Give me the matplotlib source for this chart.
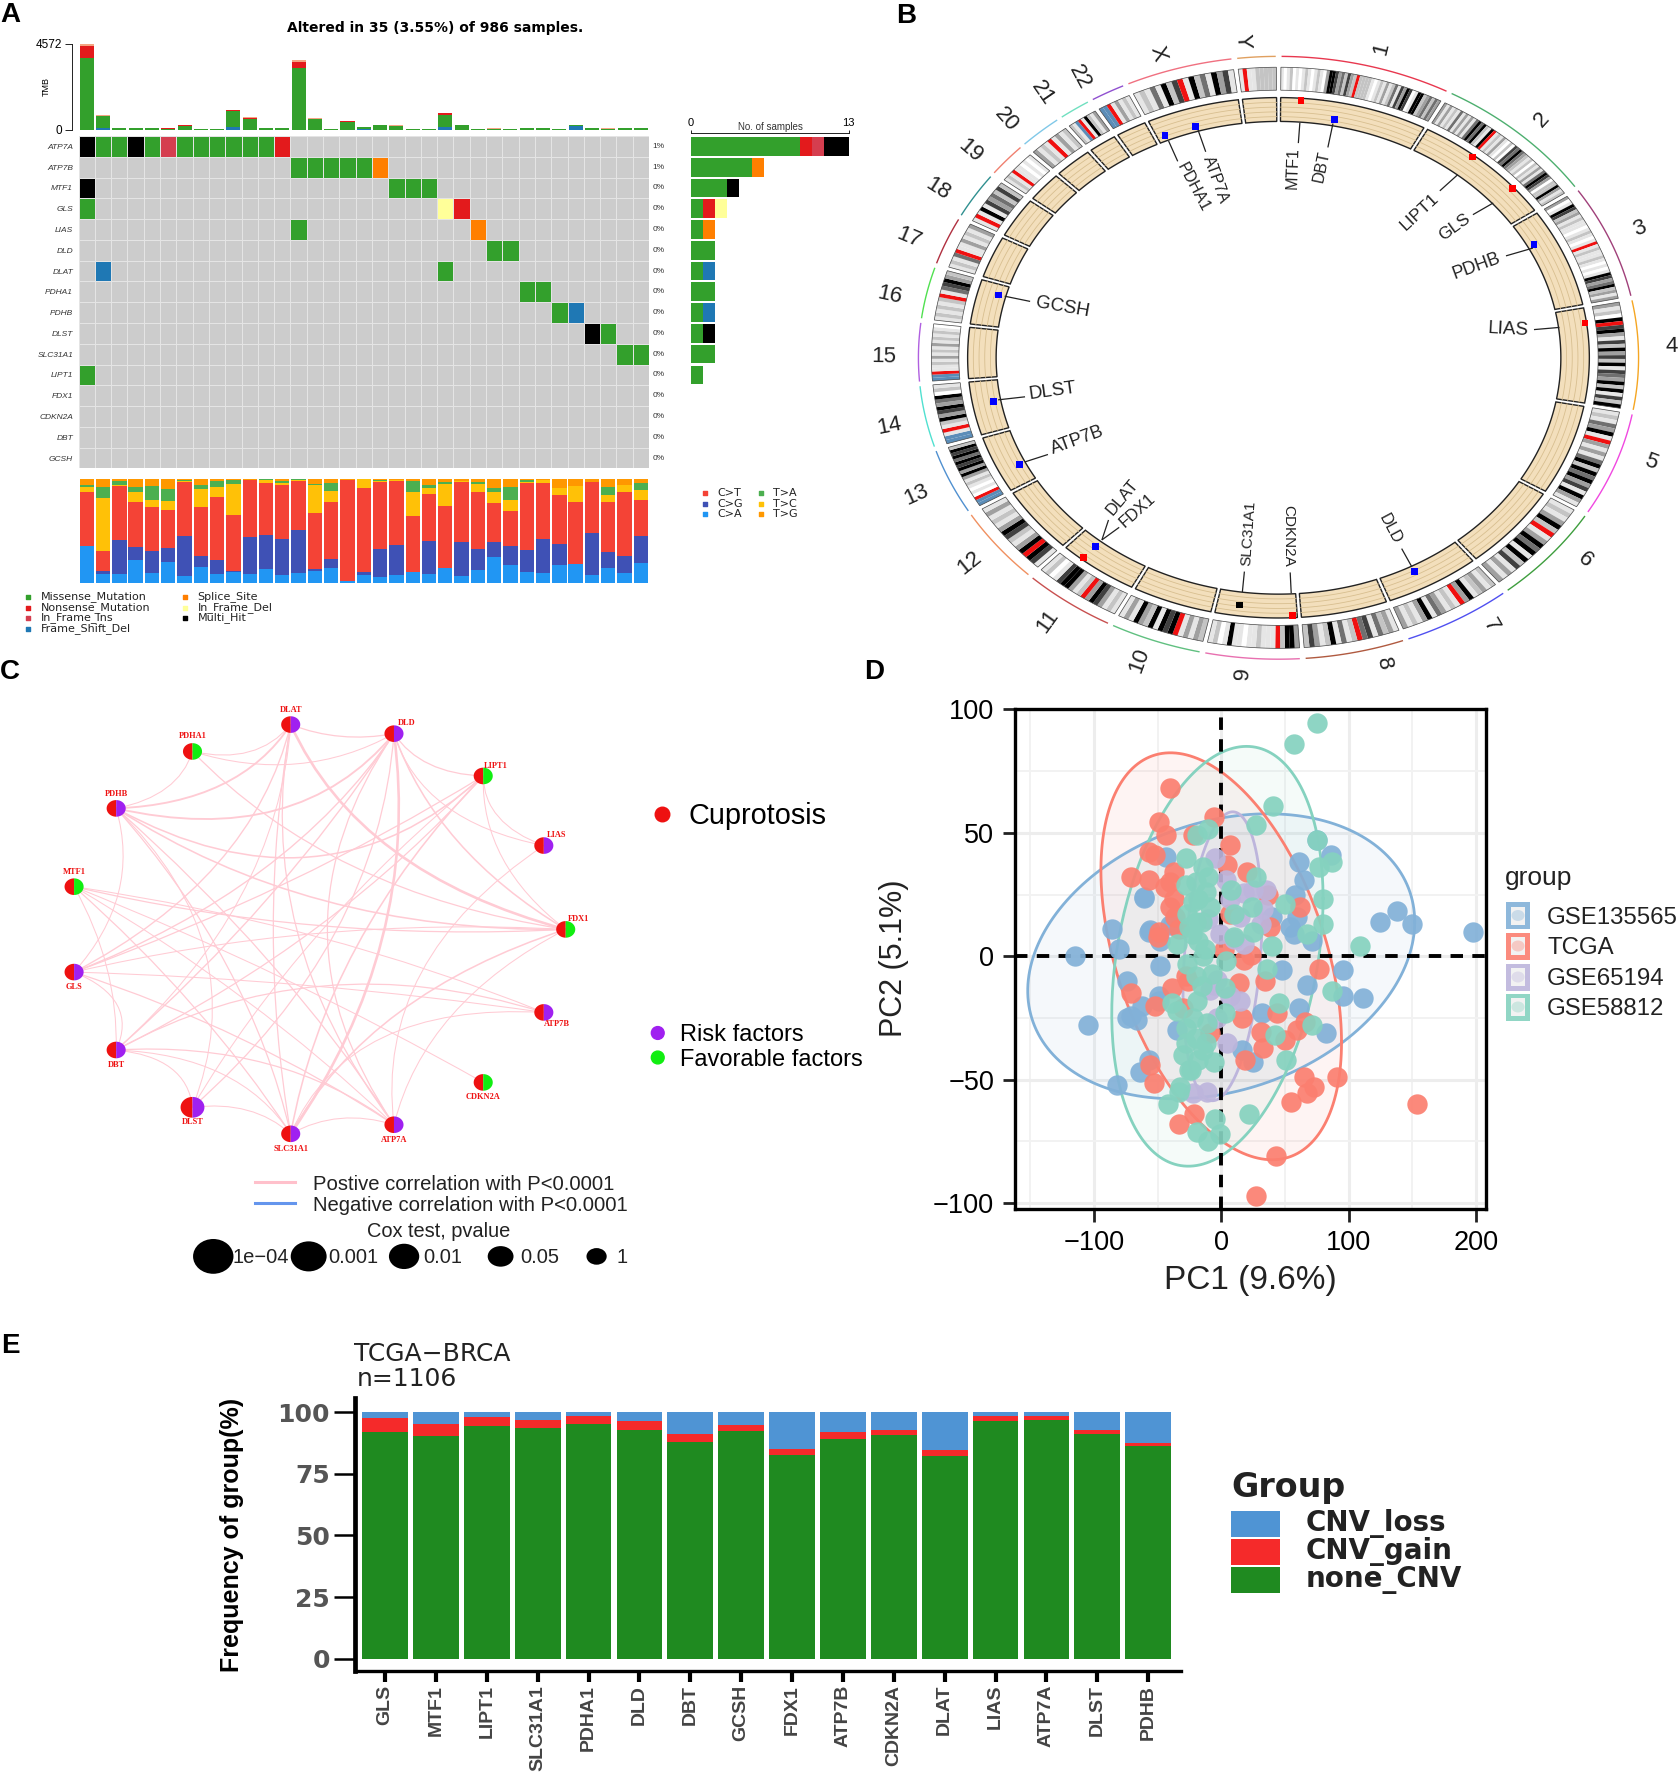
import numpy as np
import matplotlib
matplotlib.use("Agg")
import matplotlib.pyplot as plt
from matplotlib.colors import ListedColormap
from matplotlib.collections import PolyCollection, LineCollection
from matplotlib.path import Path
from matplotlib.patches import PathPatch, Polygon, Ellipse, Rectangle

plt.rcParams['font.family'] = ['Liberation Sans', 'DejaVu Sans']
W, H = 1678, 1773

# ---------- Panel A data ----------
onco_genes = ["ATP7A","ATP7B","MTF1","GLS","LIAS","DLD","DLAT","PDHA1","PDHB","DLST","SLC31A1","LIPT1","FDX1","CDKN2A","DBT","GCSH"]
onco_pct = ["1%","1%"] + ["0%"]*14
# . none  m missense  n nonsense  i in-frame ins  f frameshift  s splice  d in-frame del  h multi-hit
onco_rows = [
    "hmmhmimmmmmmn......................",
    ".............mmmmms................",
    "h..................mmm.............",
    "m.....................dn...........",
    ".............m..........s..........",
    ".........................mm........",
    ".f....................m............",
    "...........................mm......",
    ".............................mf....",
    "...............................hm..",
    ".................................mm",
    "m..................................",
    "...................................",
    "...................................",
    "...................................",
    "...................................",
]
onco_order = ".mnifsdh"
onco_colors = ["#CCCCCC","#33A02C","#E31A1C","#D53E4F","#1F78B4","#FF7F00","#FFFF99","#000000"]
tmb_missense = [3830,680,70,90,60,50,200,30,30,860,560,60,90,3290,560,50,430,120,220,200,30,30,630,220,40,30,40,80,80,30,60,100,30,60,60]
tmb_nonsense = [630,0,0,0,0,15,20,0,0,45,50,0,0,340,20,0,20,0,0,0,0,0,70,20,0,0,0,0,0,0,0,0,0,0,0]
tmb_frameshift = [0,70,0,0,0,0,0,0,0,130,0,0,0,0,0,0,0,20,0,0,0,0,160,0,0,0,0,0,0,0,190,0,0,0,0]
tmb_other = [90,40,0,0,10,10,20,20,20,30,40,0,10,90,30,0,30,0,10,20,20,20,50,20,10,30,0,10,10,20,10,10,40,10,10]
bar_missense = [9,5,3,1,1,2,1,2,1,1,2,1,0,0,0,0]
bar_nonsense = [1,0,0,1,0,0,0,0,0,0,0,0,0,0,0,0]
bar_ins      = [1,0,0,0,0,0,0,0,0,0,0,0,0,0,0,0]
bar_fs       = [0,0,0,0,0,0,1,0,1,0,0,0,0,0,0,0]
bar_splice   = [0,1,0,0,1,0,0,0,0,0,0,0,0,0,0,0]
bar_del      = [0,0,0,1,0,0,0,0,0,0,0,0,0,0,0,0]
bar_multi    = [2,0,1,0,0,0,0,0,0,1,0,0,0,0,0,0]
titv_CA = [35,8,8,22,9,20,6,15,8,10,8,13,7,9,11,14,1,7,5,7,10,8,14,6,12,25,17,10,9,17,18,7,14,9,19]
titv_CG = [0,3,33,12,21,13,39,11,14,1,36,33,35,42,2,9,0,3,27,29,0,32,0,33,20,14,18,21,33,20,0,41,15,17,26]
titv_CT = [52,19,52,44,43,37,52,47,61,54,55,50,52,47,54,55,98,81,65,62,54,46,60,58,55,38,34,65,54,48,60,49,49,61,35]
titv_TC = [5,52,1,9,7,9,1,17,9,30,0,3,2,1,27,10,0,9,1,1,23,5,21,1,8,10,11,1,3,6,15,0,7,7,9]
titv_TA = [2,10,4,5,13,11,1,4,6,4,0,1,2,1,1,8,0,0,1,0,11,3,2,0,2,4,12,2,0,0,0,0,7,0,7]
titv_TG = [6,8,2,8,7,10,1,6,2,1,1,0,2,0,5,4,1,0,1,1,2,6,3,2,3,9,8,1,1,9,7,3,8,6,4]
titv_colors = ["#2196F3","#3F51B5","#F44336","#FFC107","#4CAF50","#FF9800"]

# ---------- Panel B data ----------
chrom_names = [str(i) for i in range(1,23)] + ["X","Y"]
chrom_len = [248,242,198,190,181,171,159,145,138,134,135,133,114,107,102,90,83,80,59,64,47,51,156,57]
chrom_arc_colors = ["#E8384F","#4DAF6F","#A0407A","#F5A623","#F048E0","#3E9E3E","#5050F0","#B05A40","#E870B0","#60C080",
                    "#C85050","#F09060","#5090D0","#50E0D0","#B060E0","#50E050","#B03040","#309090","#F08070","#80C8E8",
                    "#70E0C0","#9050D0","#F07080","#E0A060"]
chrom_bands = [
 "1012010121012103665342532r2222101213124153650166234243",
 "3131214131314646216r12131020546432120213146530226312",
 "30165231211012101r1211210101653462313",
 "31206r5631526352615436261526",
 "1214361r3131462646351631",
 "121362r1364616251313",
 "2132163r121341631213",
 "1324154r2141621352",
 "3662r11121101161021",
 "23131r65616236131",
 "1213563r2136651021",
 "156r631256312131",
 "bbr01012136365646562",
 "bb1r126356346021",
 "bbr112131213121210",
 "121212r145632",
 "1214r1131213",
 "1r161534252",
 "121r110101",
 "3121r1312",
 "21br16213",
 "bbr13121",
 "12141625r162416351",
 "1r1122222",
]
band_colors = {'0':'#FFFFFF','1':'#E6E6E6','2':'#C4C4C4','3':'#A0A0A0','4':'#707070','5':'#404040','6':'#000000','r':'#F01010','b':'#5B8DB8'}
gene_names = ["MTF1","DBT","LIPT1","GLS","PDHB","LIAS","DLD","CDKN2A","SLC31A1","FDX1","DLAT","ATP7B","DLST","GCSH","PDHA1","ATP7A"]
gene_angle = [4.2,11.1,39.0,49.1,62.1,82.3,152,177.4,187.5,219.2,219,243.8,259.6,285,336.9,343.3]
gene_track = [594,559,596,597,558,597,558,594,575,595,561,557,560,559,558,557]
gene_color = ["#FF0000","#0000FF","#FF0000","#FF0000","#0000FF","#FF0000","#0000FF","#FF0000","#000000","#FF0000","#0000FF","#0000FF","#0000FF","#0000FF","#0000FF","#0000FF"]
gene_label_xy = [(812,388),(867,383),(1060,488),(1128,523),(1172,615),(1235,760),(1003,1220),(803,1235),(725,1230),(505,1176),(477,1146),(388,1015),(340,903),(358,708),(615,432),(660,415)]
gene_label_rot = [88,78,43,36,20,-3,-62,-90,86,42,50,20,8,-10,-62,-70]
gene_label_size = [11.5,11.5,12.5,12.5,13,13.5,11.5,11,11,12,12,13,13.5,13.5,11.5,11.5]
gene_line = [((825,283),(822,330)),((890,285),(880,340)),((1135,403),(1100,440)),((1205,468),(1165,495)),((1283,572),(1230,590)),
             ((1335,755),(1285,760)),((1045,1307),(1025,1265)),((808,1368),(806,1320)),((712,1365),(716,1318)),((436,1245),(470,1216)),
             ((436,1245),(449,1199)),((285,1065),(330,1048)),((232,922),(285,915)),((245,683),(295,695)),((567,325),(585,372)),((625,300),(640,350))]
chrom_label_xy = [(985,113),(1300,275),(1493,527),(1555,800),(1515,1065),(1385,1290),(1200,1443),(990,1530),(713,1552),(510,1522),
                  (330,1433),(175,1298),(72,1140),(18,982),(8,823),(18,680),(57,548),(113,435),(178,347),(247,275),(320,215),(392,178),(545,123),(712,95)]

# ---------- Panel C data ----------
net_nodes = ["DLAT","DLD","LIPT1","LIAS","FDX1","ATP7B","CDKN2A","ATP7A","SLC31A1","DLST","DBT","GLS","MTF1","PDHB","PDHA1"]
net_x = [518,702,861,969,1008,969,861,702,518,343,207,132,132,207,343]
net_y = [138,161,268,444,656,866,1043,1150,1173,1106,961,764,548,350,206]
net_factor = ["r","r","f","r","f","r","f","r","r","r","r","r","f","r","f"]
net_size = [1,1,1,1,1,1,1,1,1,1.25,1,1,1,1,1]
net_label_xy = [(518,101),(725,135),(883,243),(992,418),(1030,630),(992,895),(861,1080),(702,1189),(518,1211),(343,1144),(207,999),(132,801),(132,510),(207,313),(343,168)]
net_edges = [
 ("DLAT","PDHA1",1,.2),("DLAT","DLD",1.2,.1),("DLD","PDHA1",1,.15),("DLD","LIPT1",1.2,.15),("DLD","LIAS",1,.15),
 ("LIPT1","LIAS",1,.15),("LIPT1","FDX1",1,.1),("PDHB","PDHA1",1,.15),("PDHB","GLS",1,.1),("GLS","DBT",1,.2),("DBT","DLST",1,.2),
 ("DLST","SLC31A1",1,.15),("SLC31A1","ATP7A",1,.15),("DBT","SLC31A1",1,.15),("PDHB","DLAT",1.8,.15),("PDHB","DLD",1.8,.2),
 ("PDHB","LIPT1",1.5,.25),("PDHB","FDX1",1.5,.1),("PDHB","SLC31A1",1.2,.05),("PDHB","ATP7A",1.2,.03),("PDHB","DLST",1,.12),
 ("DLAT","FDX1",2.5,.12),("DLD","FDX1",1.5,.08),("DLAT","GLS",1.3,.1),("DLAT","DBT",1,.08),("DLD","GLS",1.3,.08),("DLD","DBT",1.3,.03),
 ("DLD","DLST",1.2,.08),("DLD","SLC31A1",2.5,-.07),("DLD","ATP7A",1.2,.12),("LIPT1","GLS",1.2,.03),("LIPT1","DBT",1.2,.05),
 ("LIPT1","DLST",1,.04),("LIPT1","SLC31A1",1.5,.06),("PDHA1","FDX1",1.2,.1),("FDX1","SLC31A1",1.5,.1),("FDX1","ATP7A",1,.1),
 ("FDX1","MTF1",1.2,.05),("MTF1","ATP7B",1,.04),("MTF1","CDKN2A",1,.02),("MTF1","SLC31A1",1.2,.03),("MTF1","ATP7A",1,.03),
 ("MTF1","DBT",1,.05),("GLS","ATP7B",1,.02),("GLS","ATP7A",1.2,.04),("DBT","ATP7B",1.2,.15),("DBT","ATP7A",1.2,.12),
 ("SLC31A1","ATP7B",1,.2),("LIAS","ATP7A",1,.12),("DLAT","SLC31A1",1.2,-.03),("DLAT","ATP7A",1.2,.08),("FDX1","GLS",1,.05),
]
cox_labels = ["1e\u221204","0.001","0.01","0.05","1"]
cox_x = [380,550,720,892,1063]
cox_rx = [36,32,27,23,18]
cox_ry = [44,38,32,26,21]

# ---------- Panel D data ----------
pc_groups = ["GSE135565","TCGA","GSE65194","GSE58812"]
pc_colors = ["#82B1D8","#FB7F70","#BDB5DC","#85D2BF"]
blue_pts = [(198,10),(150,13),(138,18.5),(125,14),(-115,0),(-105,-28),(-82,-52),(-86,11),(-80,3),(-61,24),(-57,10),(-48,6),(-74,-10),(-74,-25),(-66,-26),(-62,-20),(-64,-47),(-57,-42),(-49,-16),(-38,13),(75,47),
            (-43,40.3),(-61,23.5),(61,38),(86,41),(65,31),(58,25),(59.5,16),(57,9),(71,6),(48,-5.5),(67,-11.6),(96,-5.5),(96,-16),(111,-17),(61,-21),(82,-31),(32,-23),(-48,-4),(-56,10.6),(-40,12.7),(-49,-18),(-71,-24),(-35,-30),(16,-38),(25,-43),(40,16),(54,12)]
red_pts = [(-40,68),(-49,54.5),(-43,49),(-6,56.5),(-22,49),(7,45),(-57,42.4),(-52,41),(-57,31),(-71,32),(-37,34),(-40,30),(-44,28),(-40,20),(-49,10),(-50,8),(4.5,37),(20,34),(37,25),(62,20),(18,-1.5),(23,0.5),(2,2.5),(76.5,-5),(34.6,-10),(13.6,-11),(-26,-10),(-39,-13),(-52,-20),(-71,-15),(44,-23),(16,-25),(31,-30.5),(66,-26.5),(59.5,-30),(50,-34),(33,-37),(19,-42),(-8.6,-31),(-56,-44),(-53,-51.5),(91,-49),(65,-49),(72.6,-53),(67,-55.5),(55,-59),(154,-60),(-21,-64),(-33,-68),(43,-81),(27,-97),(-37,23),(-36,16),(-33.5,11),(7,17),(38.5,12),(-30,-21),(-28,-8)]
purple_pts = [(-5,40),(4,31),(25,27),(35,27),(33,19),(31,13),(18,25.5),(7,23),(15,16),(-1,9),(10,7),(18,5),(-3,-9.6),(7,-16),(15,-18),(-9,-13.6),(4.5,-35),(-22,-55.5),(-6,-11.6),(-11,-55),(-10,15),(-3,-25)]
teal_pts = [(75,94.5),(57,86),(41,61),(27,53),(-10,51.5),(-19,49),(75,47),(87,38),(77,36),(-28,40),(-14,36),(-28,29),(-10,32),(-18,23),(-27,17),(-9,20),(-15,14),(-23,9),(-13,3),(-35,5),(-27,-3),(-14,0),(-7,-7),(3,-13),(-39,-19),(-19,-18),(3,-23),(-28,-29),(-11,-27),(-28,-35),(-14,-38),(-6,-43),(-24,-46),(-32,-53),(8,27),(27,32),(24,20),(10,17),(10,8),(25,10),(40,4),(4,-2),(36,-5),(50,21),(80,23),(80,13),(67,9),(109,4),(45,-19),(87,-14),(71,-28),(42,-32),(51,-42),(22,-64),(-5,-66),(-19,-71),(-1,-72),(-10,-75),(-42,-60),(-33,-55),(-25,-46),
            (-20,30),(-22,22),(-25,12),(-18,6),(-20,-8),(-15,-12),(-22,-25),(-20,-33),(-18,-42),(-12,-35),(-35,-22),(-20,14),(-12,26),(-30,-40)]
# centre x, half-width, centre y, half-height, phase (deg)
pc_ellipses = [(0,152,0,57.7,76),(0,94.5,0,82.4,115),(1,31,0,58.5,75),(-3,83,0,85,74)]

# ---------- Panel E data ----------
cnv_genes = ["GLS","MTF1","LIPT1","SLC31A1","PDHA1","DLD","DBT","GCSH","FDX1","ATP7B","CDKN2A","DLAT","LIAS","ATP7A","DLST","PDHB"]
cnv_none = [91.9,90.3,94.3,93.5,95.1,92.9,88.0,92.2,82.6,89.2,90.6,82.0,96.2,96.6,91.1,86.1]
cnv_gain = [5.7,5.0,3.7,3.4,3.5,3.3,3.0,2.7,2.6,2.7,2.3,2.5,2.0,1.6,1.5,1.5]
cnv_loss = [2.4,4.7,2.0,3.1,1.4,3.8,9.0,5.1,14.8,8.1,7.1,15.5,1.8,1.8,7.4,12.4]

# ---------- figure ----------
fig = plt.figure(figsize=(W/100, H/100), dpi=100, facecolor="white")
def px_axes(x0, y0, x1, y1, **kw):
    return fig.add_axes([x0/W, 1-y1/H, (x1-x0)/W, (y1-y0)/H], **kw)

ov = px_axes(0, 0, W, H, zorder=10)
ov.set_xlim(0, W); ov.set_ylim(H, 0); ov.axis("off"); ov.patch.set_alpha(0)
for s, x, y in [("A",10,15),("B",906,16),("C",10,672),("D",874,672),("E",10,1346)]:
    ov.text(x, y, s, fontsize=20, fontweight="bold", ha="center", va="center")

# ---- A ----
ax = px_axes(78.6, 136, 649, 468.4)
codes = np.array([[onco_order.index(c) for c in r] for r in onco_rows])
ax.pcolormesh(np.arange(36), np.arange(17), codes, cmap=ListedColormap(onco_colors), vmin=-.5, vmax=7.5,
              edgecolors="#E4E4E4", linewidth=0.5)
ax.set_ylim(16, 0); ax.set_xlim(0, 35)
for s in ax.spines.values(): s.set_visible(False)
ax.set_xticks([])
ax.set_yticks(np.arange(16)+.5, onco_genes, fontsize=6, style="italic", color="#333333")
ax.tick_params(axis="y", length=0, pad=4)
for i, p in enumerate(onco_pct):
    ax.text(35.2, i+.5, p, fontsize=6, va="center", color="#333333")

ax = px_axes(78.6, 44, 649, 129.6)
xs = np.arange(35)+.5
bot = np.zeros(35)
for vals, c in [(tmb_frameshift,"#1F78B4"),(tmb_missense,"#33A02C"),(tmb_nonsense,"#E31A1C"),(tmb_other,"#F4A582")]:
    ax.bar(xs, vals, .86, bottom=bot, color=c); bot += np.array(vals)
ax.set_xlim(0, 35); ax.set_ylim(0, 4572)
for k in ("top","right","bottom"): ax.spines[k].set_visible(False)
ax.spines["left"].set_position(("outward", 4.8)); ax.spines["left"].set_linewidth(.6)
ax.set_xticks([]); ax.set_yticks([0, 4572], ["0","4572"], fontsize=8.5)
ax.tick_params(axis="y", length=5, width=.6, pad=2)
ax.text(-2.0, 2286, "TMB", fontsize=6.5, rotation=90, ha="center", va="center")

ax = px_axes(78.6, 478, 649, 582.5)
bot = np.zeros(35)
for vals, c in zip([titv_CA,titv_CG,titv_CT,titv_TC,titv_TA,titv_TG], titv_colors):
    ax.bar(xs, vals, .88, bottom=bot, color=c); bot += np.array(vals)
ax.set_xlim(0, 35); ax.set_ylim(0, 101); ax.axis("off")

ax = px_axes(691, 136, 848.5, 468.4)
ys = np.arange(16)+.5
bot = np.zeros(16)
for vals, c in zip([bar_missense,bar_nonsense,bar_ins,bar_fs,bar_splice,bar_del,bar_multi], onco_colors[1:]):
    ax.barh(ys, vals, .9, left=bot, color=c); bot += np.array(vals)
ax.set_xlim(0, 13); ax.set_ylim(16, 0)
for k in ("left","right","bottom"): ax.spines[k].set_visible(False)
ax.spines["top"].set_position(("outward", 2.5)); ax.spines["top"].set_linewidth(.6)
ax.xaxis.tick_top(); ax.set_yticks([])
ax.set_xticks([0, 13], ["0","13"], fontsize=8)
ax.tick_params(axis="x", length=2.5, width=.6, pad=1)
ov.text(770, 127, "No. of samples", fontsize=7, ha="center", va="center", color="#333333")

ov.text(435, 28, "Altered in 35 (3.55%) of 986 samples.", fontsize=10, family="DejaVu Sans", fontweight="bold", ha="center", va="center")
leg_a = [("Missense_Mutation",0,0,1),("Nonsense_Mutation",0,1,2),("In_Frame_Ins",0,2,3),("Frame_Shift_Del",0,3,4),
         ("Splice_Site",1,0,5),("In_Frame_Del",1,1,6),("Multi_Hit",1,2,7)]
for t, col, row, ci in leg_a:
    y = [597,608,618,629][row]
    ov.scatter([[28,185][col]], [y], marker="s", s=12, color=onco_colors[ci])
    ov.text([41,197.5][col], y, t, fontsize=8, family="DejaVu Sans", va="center", color="#222222")
for i, t in enumerate(["C>T","C>G","C>A","T>A","T>C","T>G"]):
    ci = [2,1,0,4,3,5][i]
    y = [493,504,514][i % 3]
    ov.scatter([[705,761][i//3]], [y], marker="s", s=12, color=titv_colors[ci])
    ov.text([717,773][i//3], y, t, fontsize=8, family="DejaVu Sans", va="center", color="#222222")

# ---- B ----
ax = px_axes(880, 0, 1678, 680)
ax.set_xlim(0, 1568); ax.set_ylim(1568, 0); ax.axis("off")
CX, CY, XS = 783, 825, 1.018
def ring(r0, r1, t0, t1, n=None):
    n = n or max(2, int(abs(t1-t0)*2)+2)
    t = np.radians(np.linspace(t0, t1, n))
    xo = CX + XS*r1*np.sin(t); yo = CY - r1*np.cos(t)
    xi = CX + XS*r0*np.sin(t)[::-1]; yi = CY - r0*np.cos(t)[::-1]
    return np.column_stack([np.r_[xo, xi], np.r_[yo, yi]])
def arc(r, t0, t1, n=60):
    t = np.radians(np.linspace(t0, t1, n))
    return np.column_stack([CX + XS*r*np.sin(t), CY - r*np.cos(t)])
deg_per = (360 - 24*0.75) / sum(chrom_len)
t = 0.4
polys, cols = [], []
for name, L, bands, ac, lab, in zip(chrom_names, chrom_len, chrom_bands, chrom_arc_colors, chrom_label_xy):
    span = L*deg_per
    bw = span/len(bands)
    for i, b in enumerate(bands):
        polys.append(ring(617, 670, t+i*bw, t+(i+1)*bw)); cols.append(band_colors[b])
    ax.add_patch(Polygon(ring(617, 670, t, t+span), closed=True, fc="none", ec="#444444", lw=.5, zorder=3))
    ax.add_patch(Polygon(ring(545, 600, t, t+span), closed=True, fc="#F3DFBC", ec="#222222", lw=1.0, zorder=2))
    for r in (556, 567, 578, 589):
        ax.plot(*arc(r, t, t+span).T, color="#D8BF90", lw=.6, zorder=2.1)
    ax.plot(*arc(695, t+.2, t+span-.2).T, color=ac, lw=1.0)
    mid = t+span/2
    rot = 90-mid if mid < 180 else 270-mid
    ax.text(lab[0], lab[1], name, fontsize=16, rotation=rot, ha="center", va="center", color="#222222")
    t += span + 0.75
ax.add_collection(PolyCollection(polys, facecolors=cols, edgecolors="none", zorder=2.5))
gx = [CX + XS*r*np.sin(np.radians(a)) for a, r in zip(gene_angle, gene_track)]
gy = [CY - r*np.cos(np.radians(a)) for a, r in zip(gene_angle, gene_track)]
ax.scatter(gx, gy, marker="s", s=24, c=gene_color, zorder=4, linewidths=0)
ax.add_collection(LineCollection(gene_line, colors="#222222", linewidths=.9, zorder=4))
for n, xy, rot, fs in zip(gene_names, gene_label_xy, gene_label_rot, gene_label_size):
    ax.text(xy[0], xy[1], n, fontsize=fs, rotation=rot, ha="center", va="center", color="#222222", rotation_mode="anchor")

# ---- C ----
ax = px_axes(0, 670, 880, 1290)
ax.set_xlim(0, 1568); ax.set_ylim(1568, 0); ax.axis("off")
pos = {n:(x,y) for n,x,y in zip(net_nodes, net_x, net_y)}
cen = np.array([570., 650.])
for a, b, lw, k in net_edges:
    p, q = np.array(pos[a],float), np.array(pos[b],float)
    m = (p+q)/2; d = q-p; L = np.hypot(*d); n = np.array([d[1],-d[0]])/L
    if np.dot(n, cen-m) < 0: n = -n
    c = m + 2*k*L*n
    ax.add_patch(PathPatch(Path([p,c,q],[Path.MOVETO,Path.CURVE3,Path.CURVE3]), fc="none", ec="#FFCBD4", lw=lw*.75, zorder=1))
def half(x, y, rx, ry, t0, t1):
    tt = np.radians(np.linspace(t0, t1, 30))
    return np.column_stack([x+rx*np.cos(tt), y+ry*np.sin(tt)])
for x, y, f, sz in zip(net_x, net_y, net_factor, net_size):
    rx, ry = 17*sz, 21*sz
    ax.add_patch(Polygon(half(x,y,rx,ry,90,270), fc="#EE1111", ec="none", zorder=2))
    ax.add_patch(Polygon(half(x,y,rx,ry,-90,90), fc="#A020F0" if f=="r" else "#11EE11", ec="none", zorder=2))
for n, xy in zip(net_nodes, net_label_xy):
    ax.text(xy[0], xy[1], n, fontsize=6, color="#EE1111", fontweight="bold", family="Liberation Serif", ha="center", va="center", zorder=3)
ax.scatter([1180],[363], s=110, color="#EE1111", zorder=2)
ax.text(1227, 368, "Cuprotosis", fontsize=20.8, va="center")
ax.scatter([1172,1172],[918,980], s=85, color=["#A020F0","#11EE11"])
ax.text(1212, 924, "Risk factors", fontsize=17, va="center")
ax.text(1212, 986, "Favorable factors", fontsize=17, va="center")
ax.plot([455,525],[1296,1296], color="#FFC0CB", lw=2.2)
ax.plot([455,525],[1349,1349], color="#6495ED", lw=2.2)
ax.text(557, 1300, "Postive correlation with P<0.0001", fontsize=14.6, va="center", color="#222222")
ax.text(557, 1354, "Negative correlation with P<0.0001", fontsize=14.6, va="center", color="#222222")
ax.text(781, 1419, "Cox test, pvalue", fontsize=14.4, ha="center", va="center", color="#222222")
for x, rx, ry, lab in zip(cox_x, cox_rx, cox_ry, cox_labels):
    ax.text(x+35, 1487, lab, fontsize=14.5, va="center", color="#222222", zorder=1)
    ax.add_patch(Ellipse((x,1483), 2*rx, 2*ry, fc="black", ec="none", zorder=2))

# ---- D ----
ax = px_axes(1015, 708.6, 1486, 1209.4)
ax.set_xlim(-162, 208); ax.set_ylim(-102.5, 100.3)
ax.set_xticks([-100,0,100,200], ["\u2212100","0","100","200"])
ax.set_yticks([-100,-50,0,50,100], ["\u2212100","\u221250","0","50","100"])
ax.set_xticks([-150,-50,50,150], minor=True); ax.set_yticks([-75,-25,25,75], minor=True)
ax.grid(True, which="major", color="#EDEDED", lw=2.2, zorder=0)
ax.grid(True, which="minor", color="#F2F2F2", lw=1.4, zorder=0)
ax.tick_params(axis="both", which="major", labelsize=19.5, length=9, width=2, pad=6, color="#222222")
ax.tick_params(axis="both", which="minor", length=0)
for s in ax.spines.values(): s.set_linewidth(2.4)
ax.set_axisbelow(True)
tt = np.radians(np.linspace(0, 360, 200))
for (cx,A,cy,B,ph), c in zip(pc_ellipses, pc_colors):
    ex = cx + A*np.cos(tt); ey = cy + B*np.cos(tt-np.radians(ph))
    ax.fill(ex, ey, color=c, alpha=.08, lw=0, zorder=1)
    ax.plot(ex, ey, color=c, lw=2.0, zorder=3)
for pts, c in zip([blue_pts,red_pts,purple_pts,teal_pts], pc_colors):
    arr = np.array(pts, float)
    ax.scatter(arr[:,0], arr[:,1], s=215, color=c, alpha=.92, linewidths=0, zorder=4)
ax.axhline(0, color="black", lw=2.8, ls=(0,(3.2,2.4)), zorder=3.5)
ax.axvline(0, color="black", lw=2.8, ls=(0,(3.2,2.4)), zorder=3.5)
ov.text(1250, 1281, "PC1 (9.6%)", fontsize=24, ha="center", va="center", color="#222222")
ov.text(894, 958, "PC2 (5.1%)", fontsize=22, rotation=90, ha="center", va="center", color="#222222")
ov.text(1505, 878, "group", fontsize=19, va="center", color="#222222")
for y, g, c in zip([915.5,946,977,1007], pc_groups, pc_colors):
    ov.add_patch(Rectangle((1506,y-13.5), 24, 27, fc=c, ec="none", alpha=.9))
    ov.add_patch(Rectangle((1511,y-9), 14, 18, fc="#F2F2F2", ec="none"))
    ov.add_patch(Ellipse((1518,y), 13, 11, fc=c, ec="none", alpha=.35))
    ov.text(1547, y+2, g, fontsize=17.3, va="center", color="#222222")

# ---- E ----
ax = px_axes(355, 1398, 1181, 1671)
ex = np.arange(1, 17)
none_a, gain_a, loss_a = np.array(cnv_none), np.array(cnv_gain), np.array(cnv_loss)
ax.bar(ex, none_a, .9, color="#1F8A20")
ax.bar(ex, gain_a, .9, bottom=none_a, color="#F52A2A")
ax.bar(ex, loss_a, .9, bottom=none_a+gain_a, color="#4F94D4")
ax.set_xlim(.41, 16.645); ax.set_ylim(-5, 105.7)
for k in ("top","right"): ax.spines[k].set_visible(False)
ax.spines["left"].set_linewidth(3.4); ax.spines["bottom"].set_linewidth(2.4)
ax.set_xticks(ex, cnv_genes, rotation=90, fontsize=14, fontweight="bold", color="#444444")
ax.set_yticks([0,25,50,75,100], ["0","25","50","75","100"], fontsize=18, family="DejaVu Sans", fontweight="bold", color="#555555")
ax.tick_params(axis="x", length=8, width=3, pad=2)
ax.tick_params(axis="y", length=15, width=1.8, pad=3)
ov.text(232, 1535, "Frequency of group(%)", fontsize=18, rotation=90, ha="center", va="center", fontweight="bold")
ov.text(354, 1354, "TCGA\u2212BRCA", fontsize=18, family="DejaVu Sans", va="center", color="#222222")
ov.text(357, 1379, "n=1106", fontsize=18, family="DejaVu Sans", va="center", color="#222222")
ov.text(1231, 1487, "Group", fontsize=24, family="DejaVu Sans", fontweight="bold", va="center", color="#222222")
for y, t_, c in zip([1524,1552,1580], ["CNV_loss","CNV_gain","none_CNV"], ["#4F94D4","#F52A2A","#1F8A20"]):
    ov.add_patch(Rectangle((1231,y-13), 49, 26, fc=c, ec="none"))
    ov.text(1305.7, y, t_, fontsize=20, family="DejaVu Sans", fontweight="bold", va="center", color="#222222")

fig.savefig("out.png", dpi=100)
